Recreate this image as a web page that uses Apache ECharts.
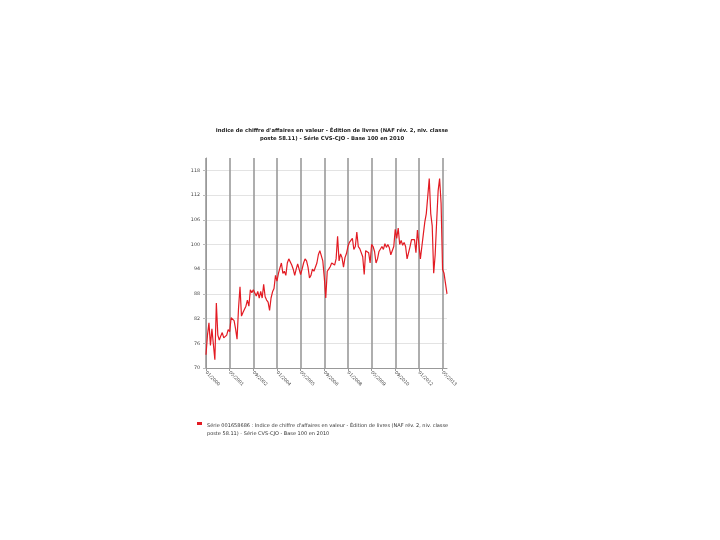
<!DOCTYPE html>
<html><head><meta charset="utf-8">
<script src="https://cdn.jsdelivr.net/npm/echarts@6/dist/echarts.min.js"></script>
<style>html,body{margin:0;padding:0;background:#fff}#c{width:720px;height:540px}</style>
</head><body><div id="c"></div>
<script>
const titleText = "Indice de chiffre d'affaires en valeur - Édition de livres (NAF rév. 2, niv. classe\nposte 58.11) - Série CVS-CJO - Base 100 en 2010";
const seriesName = "Série 001658686 : Indice de chiffre d'affaires en valeur - Édition de livres (NAF rév. 2, niv. classe\nposte 58.11) - Série CVS-CJO - Base 100 en 2010";
const startYear = 2000;
const tickLabels = ["01/2000","05/2001","09/2002","01/2004","05/2005","09/2006","01/2008","05/2009","09/2010","01/2012","05/2013"];
const values = [
73.2,78,81,75.5,79.5,75.7,72,85.8,78,76.8,77.8,78.6,
77.3,77.5,78,79.3,78.8,82.2,82.6,81.5,79.5,77,84.5,89.7,
82.6,83.5,83.3,85,86.5,85,89,88.3,89,88.6,87.5,88.6,
87,88.6,87,90.3,87.3,86.5,86,84,87,88.5,89.3,92.5,
91.1,93,94.3,95.5,93,93.5,92.5,95.5,96.5,96.5,95,94,
92.5,94,95.3,95,92.7,94,95.5,96.5,96,94.5,91.9,92.5,
94,93.5,93.5,95.5,97.5,98.5,98.9,96,92,87,93.5,94,
94.6,95.5,95.3,95,96.5,102,96,97.7,96.8,94.5,96.8,97.8,
99.5,100.5,100.3,101.5,98.8,99.5,103,99.5,99,99.4,97,92.7,
98.5,98.8,98,95.5,100,99.5,98.3,95.5,96.5,98.3,98,99.5,
98.8,100.2,99.3,100,99.2,97.5,97.2,99.5,103.7,101.5,104,100,
101,99.8,100.5,99.5,96.5,96.2,99.5,101.2,101,101.2,98,103.5,
100,96.5,99.5,102.5,105.5,107.5,107.3,116,107.5,104.5,93,97.5,
105.5,113,116,110,94,93,90.5,88
];
const months = [];
for (let i = 0; i < values.length; i++) {
  const y = startYear + Math.floor(i / 12), m = (i % 12) + 1;
  months.push((m < 10 ? '0' + m : '' + m) + '/' + y);
}
const chart = echarts.init(document.getElementById('c'));
chart.setOption({
  animation: false,
  backgroundColor: '#fff',
  title: {
    text: titleText, left: 327, top: 122, textAlign: 'center',
    textStyle: {fontFamily: 'DejaVu Sans', fontSize: 5.3, fontWeight: 'bold', color: '#222', lineHeight: 8}
  },
  legend: {
    left: 192, top: 414, itemWidth: 5, itemHeight: 16, itemGap: 3,
    icon: 'path://M0,0H5V3H0Z M0,16H0.01V16.01H0Z',
    textStyle: {fontFamily: 'DejaVu Sans', fontSize: 5, color: '#333', lineHeight: 8, padding: [6,0,0,0]},
    data: [seriesName]
  },
  grid: {left: 206, right: 273, top: 158, bottom: 172},
  xAxis: {
    type: 'category', data: months, boundaryGap: false,
    axisLine: {lineStyle: {color: '#999', width: 1}},
    axisTick: {show: true, interval: 15, length: 3, lineStyle: {color: '#999'}},
    axisLabel: {interval: 15, rotate: -45, fontSize: 4.5, color: '#444', fontFamily: 'DejaVu Sans', margin: 4,
      formatter: function(v, i) { const k = tickLabels.indexOf(v); return k >= 0 ? tickLabels[k] : v; }},
    splitLine: {show: true, interval: 15, lineStyle: {color: '#9a9a9a', width: 1.6}}
  },
  yAxis: {
    type: 'value', min: 70, max: 121, interval: 6,
    axisLine: {show: true, lineStyle: {color: '#999'}},
    axisTick: {show: true, length: 3, lineStyle: {color: '#bbb'}},
    axisLabel: {fontSize: 4.8, color: '#444', fontFamily: 'DejaVu Sans', margin: 6, showMaxLabel: false},
    splitLine: {show: true, lineStyle: {color: ['#e3e3e3','#e3e3e3','#e3e3e3','#e3e3e3','#e3e3e3','#e3e3e3','#e3e3e3','#e3e3e3','#e3e3e3','rgba(0,0,0,0)'], width: 1}}
  },
  series: [{
    name: seriesName, type: 'line', data: values, symbol: 'none',
    itemStyle: {color: '#e31b23'},
    lineStyle: {color: '#e31b23', width: 1.2}
  }]
});
</script></body></html>
